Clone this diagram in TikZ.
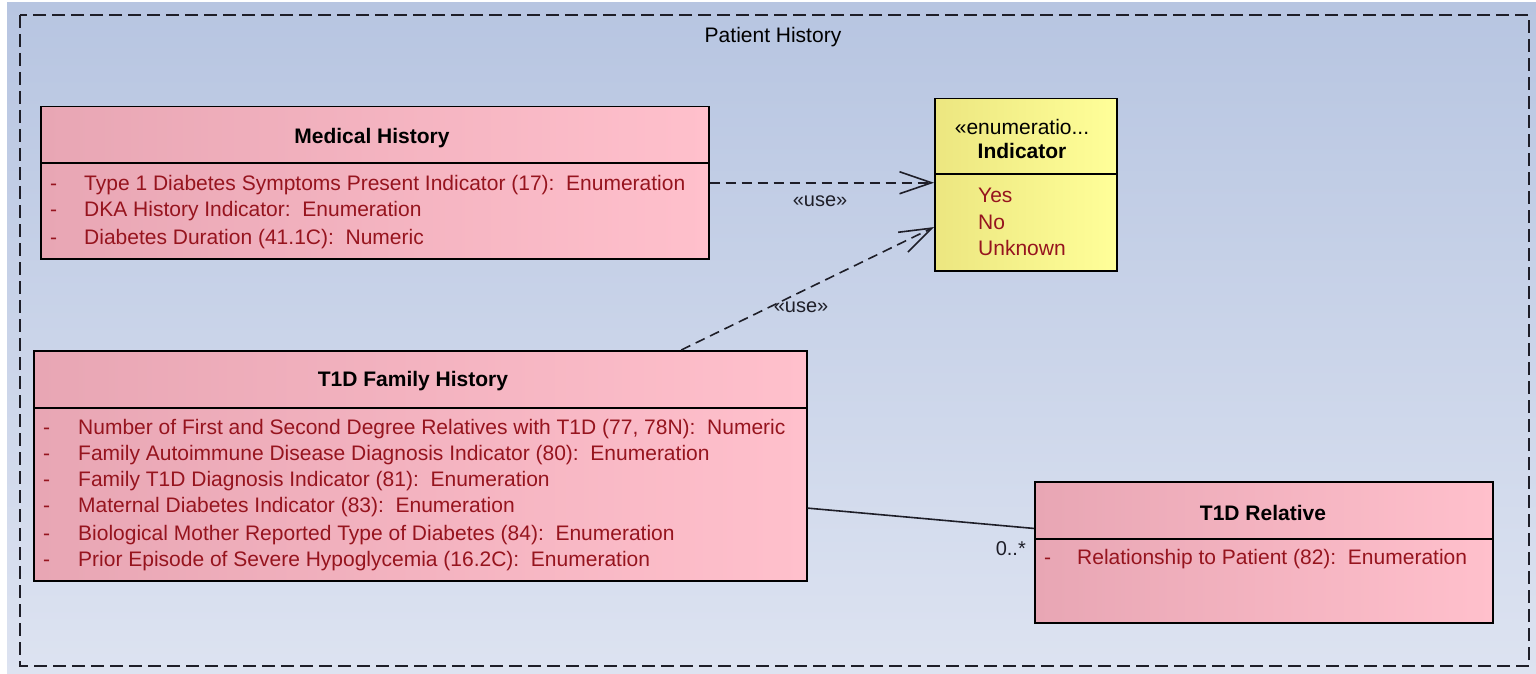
\documentclass[tikz,border=0pt]{standalone}
\usepackage{fontspec}
\setmainfont{Liberation Sans}
\usetikzlibrary{arrows.meta,calc}
\definecolor{bgtop}{RGB}{183,197,225}
\definecolor{bgbot}{RGB}{221,227,241}
\definecolor{pinkL}{RGB}{232,166,180}
\definecolor{pinkR}{RGB}{255,192,204}
\definecolor{yelL}{RGB}{236,230,128}
\definecolor{yelR}{RGB}{255,255,153}
\definecolor{attr}{RGB}{150,20,30}
\definecolor{linec}{RGB}{30,30,40}
\begin{document}
\begin{tikzpicture}[x=1pt,y=-1pt,
  every node/.style={font=\fontsize{21}{25}\selectfont, inner sep=0pt},
  clsbox/.style={draw=black, line width=1.5pt, left color=pinkL, right color=pinkR, anchor=north west, rectangle},
  enumbox/.style={draw=black, line width=1.5pt, left color=yelL, right color=yelR, anchor=north west, rectangle},
  divider/.style={draw=black, line width=1.5pt},
  ctitle/.style={font=\fontsize{21}{25}\selectfont\bfseries, text=black},
  attrtxt/.style={anchor=base west, text=attr},
  deptxt/.style={text=linec, font=\fontsize{20}{24}\selectfont},
  dep/.style={draw=linec, line width=1.6pt, dash pattern=on 10pt off 6pt, -{Straight Barb[length=32pt,width=22pt,line width=1.6pt]}},
  assoc/.style={draw=linec, line width=1.6pt},
  frame/.style={draw=linec, line width=1.8pt, dash pattern=on 13pt off 6pt}
]
\useasboundingbox (0,0) rectangle (1536,674);
\fill[white] (0,0) rectangle (1536,674);
\shade[top color=bgtop, bottom color=bgbot] (7,3) rectangle (1536,674);
\draw[frame] (20,15) rectangle (1529,666);
\node[text=black] (ptitle) at (773,37) {Patient History};

% Medical History
\node[clsbox, minimum width=668pt, minimum height=152pt] (mh) at (40,106) {};
\draw[divider] (40,163) -- (708,163);
\node[ctitle] (mht) at (372,138) {Medical History};
\node[attrtxt] (mhd1) at (50,190) {-};
\node[attrtxt] (mha1) at (84,190) {Type 1 Diabetes Symptoms Present Indicator (17):\ \ Enumeration};
\node[attrtxt] (mhd2) at (50,216) {-};
\node[attrtxt] (mha2) at (84,216) {DKA History Indicator:\ \ Enumeration};
\node[attrtxt] (mhd3) at (50,244) {-};
\node[attrtxt] (mha3) at (84,244) {Diabetes Duration (41.1C):\ \ Numeric};

% Indicator
\node[enumbox, minimum width=182pt, minimum height=172pt] (ind) at (934,98) {};
\draw[divider] (934,174) -- (1116,174);
\node[text=black] (inds) at (1022,127) {«enumeratio...};
\node[ctitle] (indt) at (1022,151) {Indicator};
\node[attrtxt] (iv1) at (978,202) {Yes};
\node[attrtxt] (iv2) at (978,229) {No};
\node[attrtxt] (iv3) at (978,255) {Unknown};

% T1D Family History
\node[clsbox, minimum width=773pt, minimum height=230pt] (fh) at (33,350) {};
\draw[divider] (33,408) -- (806,408);
\node[ctitle] (fht) at (413,381) {T1D Family History};
\node[attrtxt] (fhd1) at (43,434) {-};
\node[attrtxt] (fha1) at (78,434) {Number of First and Second Degree Relatives with T1D (77, 78N):\ \ Numeric};
\node[attrtxt] (fhd2) at (43,460) {-};
\node[attrtxt] (fha2) at (78,460) {Family Autoimmune Disease Diagnosis Indicator (80):\ \ Enumeration};
\node[attrtxt] (fhd3) at (43,486) {-};
\node[attrtxt] (fha3) at (78,486) {Family T1D Diagnosis Indicator (81):\ \ Enumeration};
\node[attrtxt] (fhd4) at (43,512) {-};
\node[attrtxt] (fha4) at (78,512) {Maternal Diabetes Indicator (83):\ \ Enumeration};
\node[attrtxt] (fhd5) at (43,540) {-};
\node[attrtxt] (fha5) at (78,540) {Biological Mother Reported Type of Diabetes (84):\ \ Enumeration};
\node[attrtxt] (fhd6) at (43,566) {-};
\node[attrtxt] (fha6) at (78,566) {Prior Episode of Severe Hypoglycemia (16.2C):\ \ Enumeration};

% T1D Relative
\node[clsbox, minimum width=458pt, minimum height=141pt] (rel) at (1034,481) {};
\draw[divider] (1034,539) -- (1492,539);
\node[ctitle] (relt) at (1263,513) {T1D Relative};
\node[attrtxt] (reld1) at (1044,564) {-};
\node[attrtxt] (rela1) at (1077,564) {Relationship to Patient (82):\ \ Enumeration};

% connectors
\draw[dep] (mh.east) -- (ind.west |- mh.east);
\node[deptxt] (use1) at (820,201) {«use»};
\draw[dep] ($(fh.north west)!0.837!(fh.north east)$) -- ($(ind.north west)!0.744!(ind.south west)$);
\node[deptxt] (use2) at (801,307) {«use»};
\draw[assoc] ($(fh.north east)!0.683!(fh.south east)$) -- ($(rel.north west)!0.333!(rel.south west)$);
\node[deptxt, anchor=east] (mult) at (1026,549) {0..*};
\end{tikzpicture}
\end{document}
